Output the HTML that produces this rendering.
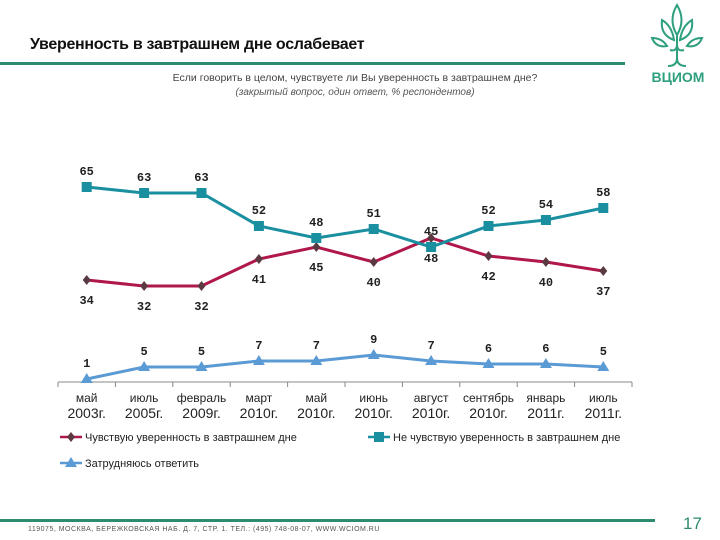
<!DOCTYPE html>
<html><head><meta charset="utf-8"><style>
body{margin:0;width:720px;height:540px;background:#fff;overflow:hidden;position:relative;font-family:"Liberation Sans",sans-serif}
.t{position:absolute}
</style></head><body>
<div class="t" style="left:30px;top:36px;font-size:16px;font-weight:bold;color:#111;letter-spacing:-0.3px">Уверенность в завтрашнем дне ослабевает</div>
<div class="t" style="left:0;top:62px;width:625px;height:3px;background:#2e8b6f"></div>
<div class="t" style="left:0;width:720px;top:72px;text-align:center;font-size:10.5px;color:#444;padding-left:0"><span style="position:relative;left:-5px">Если говорить в целом, чувствуете ли Вы уверенность в завтрашнем дне?</span></div>
<div class="t" style="left:0;width:720px;top:87px;text-align:center;font-size:10px;color:#555;font-style:italic"><span style="position:relative;left:-5px">(закрытый вопрос, один ответ, % респондентов)</span></div>
<svg class="t" style="left:640px;top:0" width="80" height="90" viewBox="0 0 80 90">
<g fill="none" stroke="#2e9f7f" stroke-width="2">
<path d="M37 5 Q28 20 37 35 Q46 20 37 5Z"/><path d="M22 20 Q20 35 34 40 Q32 26 22 20Z"/><path d="M52 20 Q54 35 40 40 Q42 26 52 20Z"/>
<path d="M12 38 Q16 48 27 46 Q22 38 12 38Z"/><path d="M62 38 Q58 48 47 46 Q52 38 62 38Z"/>
<path d="M37 35 V58 Q37 66 28 66 M37 58 Q37 66 46 66 M30 50 Q37 52 37 44 M44 50 Q37 52 37 44"/></g>
<text x="38" y="82" text-anchor="middle" font-size="14" font-family="Liberation Sans" fill="#2e9f7f" font-weight="bold">ВЦИОМ</text></svg>
<svg id="chart" class="t" style="left:0;top:0" width="720" height="540"></svg>
<div class="t" style="left:0;top:519px;width:655px;height:3px;background:#2e8b6f"></div>
<div class="t" style="left:28px;top:526px;font-size:7px;color:#555;letter-spacing:0.5px">119075, МОСКВА, БЕРЕЖКОВСКАЯ НАБ. Д. 7, СТР. 1. ТЕЛ.: (495) 748-08-07, WWW.WCIOM.RU</div>
<div class="t" style="left:683px;top:514px;font-size:17px;color:#2e8b6f">17</div>
<script>
const categories=[["май","2003г."],["июль","2005г."],["февраль","2009г."],["март","2010г."],["май","2010г."],["июнь","2010г."],["август","2010г."],["сентябрь","2010г."],["январь","2011г."],["июль","2011г."]];
const seriesConfident=[34,32,32,41,45,40,48,42,40,37];
const seriesNotConfident=[65,63,63,52,48,51,45,52,54,58];
const seriesHard=[1,5,5,7,7,9,7,6,6,5];
const seriesNames=["Чувствую уверенность в завтрашнем дне","Не чувствую уверенность в завтрашнем дне","Затрудняюсь ответить"];
const NS="http://www.w3.org/2000/svg",svg=document.getElementById('chart');
const x0=58,x1=632,yBase=382,k=3;
const xs=i=>x0+(x1-x0)/categories.length*(i+0.5);
const ys=v=>yBase-v*k;
function mk(t,a){const e=document.createElementNS(NS,t);for(const n in a)e.setAttribute(n,a[n]);svg.appendChild(e);return e;}
let ax=mk('line',{x1:x0,x2:x1,y1:yBase,y2:yBase,stroke:'#888','stroke-width':1});


for(let i=0;i<=categories.length;i++){const xx=x0+(x1-x0)/categories.length*i;const tk=mk('line',{x1:xx,x2:xx,y1:yBase,y2:yBase+5,stroke:'#888'});

}
categories.forEach((c,i)=>{c.forEach((s,j)=>{const t=mk('text',{x:xs(i),y:yBase+20+j*16,'text-anchor':'middle','font-size':j?14:12,'font-family':'Liberation Sans',fill:'#222'});t.textContent=s;

});});
function marker(type,x,y,col){if(type==='d')return mk('path',{d:`M${x} ${y-5}L${x+4} ${y}L${x} ${y+5}L${x-4} ${y}Z`,fill:'#5a3a40'});
if(type==='s')return mk('rect',{x:x-5,y:y-5,width:10,height:10,fill:'#1a8fa0'});
return mk('path',{d:`M${x} ${y-6}L${x+6} ${y+4}L${x-6} ${y+4}Z`,fill:'#5b9bd5'});}
function series(vals,col,type,dy,name){const p=mk('polyline',{points:vals.map((v,i)=>xs(i)+','+ys(v)).join(' '),fill:'none',stroke:col,'stroke-width':3});


vals.forEach((v,i)=>{const m=marker(type,xs(i),ys(v),col);


const t=mk('text',{x:xs(i),y:ys(v)+dy,'text-anchor':'middle','font-size':12,'font-weight':'bold','font-family':'Liberation Mono',fill:'#222'});t.textContent=v;

});}
series(seriesConfident,'#b0174a','d',24,'confident');
series(seriesNotConfident,'#1a8fa0','s',-12,'not-confident');
series(seriesHard,'#5b9bd5','t',-12,'hard-to-say');
function leg(x,y,type,col,txt,name){const l=mk('line',{x1:x,x2:x+22,y1:y,y2:y,stroke:col,'stroke-width':2.5});


const m=marker(type,x+11,y,col);


const t=mk('text',{x:x+25,y:y+4,'font-size':11,'font-family':'Liberation Sans',fill:'#222'});t.textContent=txt;

}
leg(60,437,'d','#b0174a',seriesNames[0],'confident');
leg(368,437,'s','#1a8fa0',seriesNames[1],'not-confident');
leg(60,463,'t','#5b9bd5',seriesNames[2],'hard-to-say');
</script>
</body></html>
